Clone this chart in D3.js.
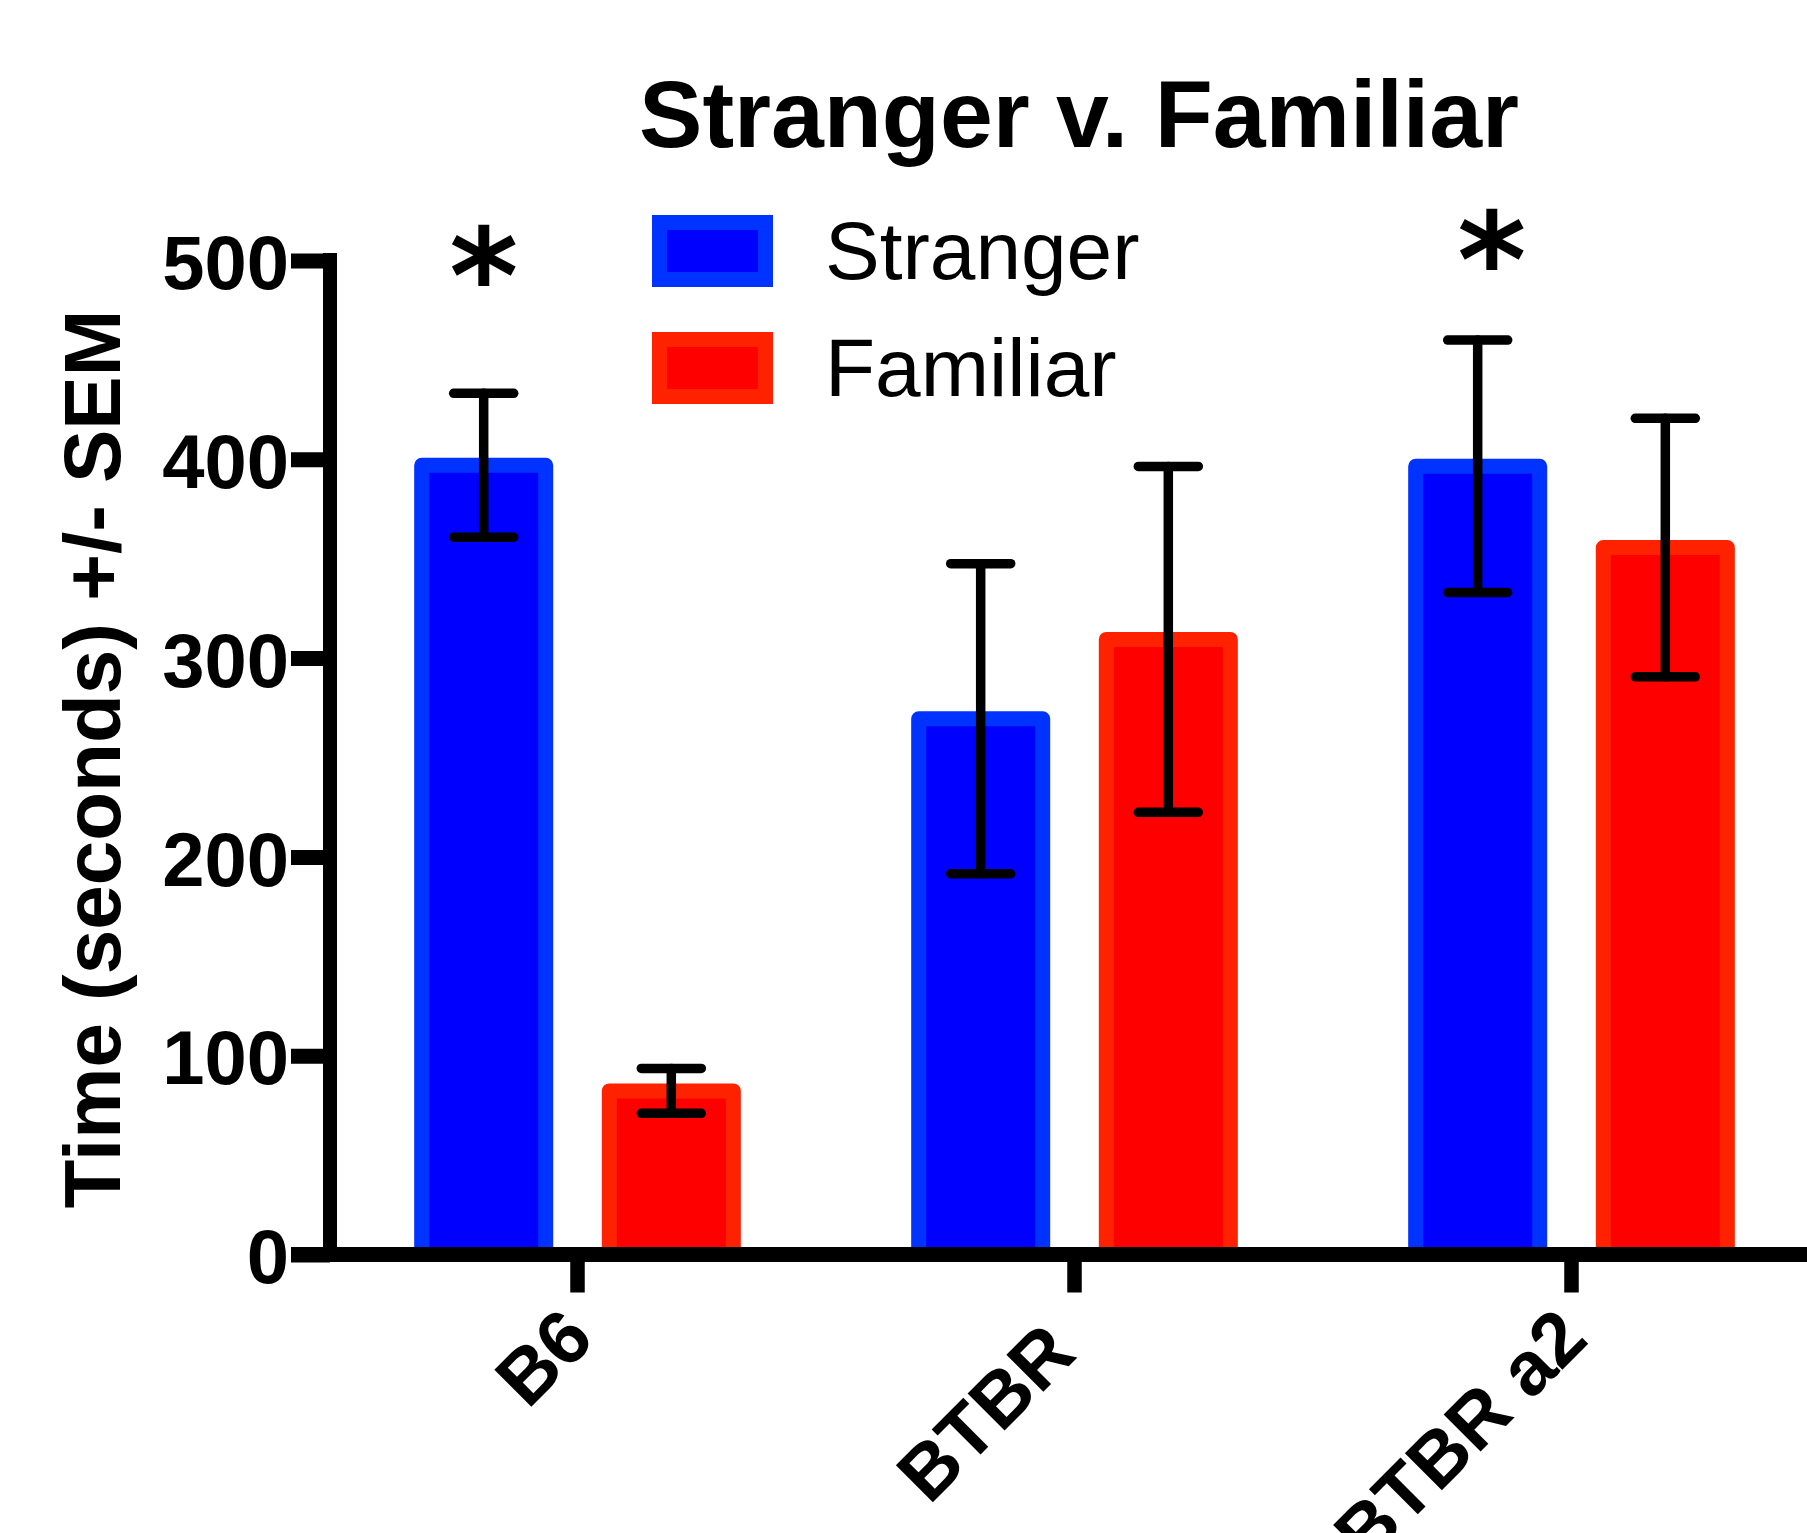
<!DOCTYPE html>
<html>
<head>
<meta charset="utf-8">
<script src="https://cdn.jsdelivr.net/npm/d3@7"></script>
<style>
body{margin:0;background:#fff}
svg text{font-family:"Liberation Sans",Arial,Helvetica,sans-serif}
</style>
</head>
<body>
<svg id="chart"></svg>
<script>
// values
const categories = ["B6", "BTBR", "BTBR a2"]
const tickLabels = ["B6", "BTBR ", "BTBR a2"]
const series = ["Stranger", "Familiar"]
const strangerMean = [397, 269.5, 396.5]
const strangerSem = [36.2, 78, 63.5]
const familiarMean = [82.3, 309.4, 355.6]
const familiarSem = [11.3, 87, 65]
const yTicks = [0, 100, 200, 300, 400, 500]
const stars = [
    {category: "B6", series: "Stranger", at: 505},
    {category: "BTBR a2", series: "Stranger", at: 513}
]

const width = 1807, height = 1533
const fillColor = {Stranger: "#0000ff", Familiar: "#ff0000"}
const edgeColor = {Stranger: "#0033ff", Familiar: "#ff2200"}

const svg = d3.select("#chart").attr("width", width).attr("height", height)
svg.append("rect").attr("width", width).attr("height", height).attr("fill", "#fff")

const y = d3.scaleLinear().domain([0, 500]).range([1254.5, 260.5])
const x0 = d3.scaleBand().domain(categories).range([329, 1820])
const x1 = d3.scaleBand().domain(series).range([0, x0.bandwidth()])
    .paddingInner(0.339).paddingOuter(0.494)

let rows = []
categories.forEach((c, i) => {
    rows.push({category: c, series: "Stranger", mean: strangerMean[i], sem: strangerSem[i]})
    rows.push({category: c, series: "Familiar", mean: familiarMean[i], sem: familiarSem[i]})
})
const cx = d => x0(d.category) + x1(d.series) + x1.bandwidth() / 2

// bars
svg.append("g").selectAll("rect").data(rows).join("rect")
    .attr("x", d => x0(d.category) + x1(d.series))
    .attr("y", d => y(d.mean))
    .attr("width", x1.bandwidth())
    .attr("height", d => y(0) - y(d.mean))
    .attr("fill", d => fillColor[d.series])
    .attr("stroke", d => edgeColor[d.series])
    .attr("stroke-width", 15)
    .attr("stroke-linejoin", "round")

// error bars
const err = svg.append("g").attr("stroke", "#000").attr("stroke-width", 9.5)
    .attr("stroke-linecap", "round")
err.selectAll(".stem").data(rows).join("line")
    .attr("x1", cx).attr("x2", cx)
    .attr("y1", d => y(d.mean + d.sem)).attr("y2", d => y(d.mean - d.sem))
err.selectAll(".capTop").data(rows).join("line")
    .attr("x1", d => cx(d) - 30).attr("x2", d => cx(d) + 30)
    .attr("y1", d => y(d.mean + d.sem)).attr("y2", d => y(d.mean + d.sem))
err.selectAll(".capBot").data(rows).join("line")
    .attr("x1", d => cx(d) - 30).attr("x2", d => cx(d) + 30)
    .attr("y1", d => y(d.mean - d.sem)).attr("y2", d => y(d.mean - d.sem))

// y axis
const yAxis = svg.append("g").attr("transform", "translate(330,0)")
    .call(d3.axisLeft(y).tickValues(yTicks).tickSize(39).tickPadding(2).tickSizeOuter(0))
yAxis.select(".domain").remove()
yAxis.selectAll(".tick line").attr("stroke", "#000").attr("stroke-width", 15)
yAxis.selectAll(".tick text")
    .attr("font-size", 76).attr("font-weight", "bold").attr("fill", "#000")
    .attr("dy", "0.37em")
yAxis.append("line").attr("x1", 0).attr("x2", 0)
    .attr("y1", y(500) - 7.5).attr("y2", y(0) + 7.5)
    .attr("stroke", "#000").attr("stroke-width", 14)

// x axis
const xAxis = svg.append("g").attr("transform", `translate(0,${y(0)})`)
    .call(d3.axisBottom(x0).tickSize(38).tickSizeOuter(0).tickFormat((d, i) => tickLabels[i]))
xAxis.select(".domain").remove()
xAxis.selectAll(".tick line").attr("stroke", "#000").attr("stroke-width", 14.5)
xAxis.selectAll(".tick text")
    .attr("font-size", 76).attr("font-weight", "bold").attr("fill", "#000")
    .attr("text-anchor", "end").attr("dy", null).attr("y", null)
    .style("white-space", "pre")
    .attr("transform", "translate(19,87) rotate(-45)")
xAxis.append("line").attr("x1", 291).attr("x2", width)
    .attr("y1", 0).attr("y2", 0)
    .attr("stroke", "#000").attr("stroke-width", 15)

// y title
svg.append("text")
    .attr("transform", "translate(120,759) rotate(-90)")
    .attr("text-anchor", "middle")
    .attr("font-size", 80).attr("font-weight", "bold")
    .text("Time (seconds) +/- SEM")

// title
svg.append("text")
    .attr("x", 1079).attr("y", 147)
    .attr("text-anchor", "middle")
    .attr("font-size", 95).attr("font-weight", "bold")
    .text("Stranger v. Familiar")

// legend
const legend = svg.append("g").selectAll("g").data(series).join("g")
    .attr("transform", (d, i) => `translate(0,${i * 117})`)
legend.append("rect")
    .attr("x", 659.5).attr("y", 222.5).attr("width", 106).attr("height", 57)
    .attr("fill", d => fillColor[d]).attr("stroke", d => edgeColor[d]).attr("stroke-width", 15)
legend.append("text")
    .attr("x", 825).attr("y", 279)
    .attr("font-size", 82)
    .text(d => d)

// significance stars
const starNudge = [0, 14]
svg.append("g").selectAll("text").data(stars).join("text")
    .attr("x", (d, i) => x0(d.category) + x1(d.series) + x1.bandwidth() / 2 + starNudge[i])
    .attr("y", d => y(d.at) + 0.55 * 132)
    .attr("text-anchor", "middle")
    .style("font-family", "'DejaVu Sans', sans-serif")
    .attr("font-weight", "bold")
    .attr("font-size", 132)
    .text("*")
</script>
</body>
</html>
